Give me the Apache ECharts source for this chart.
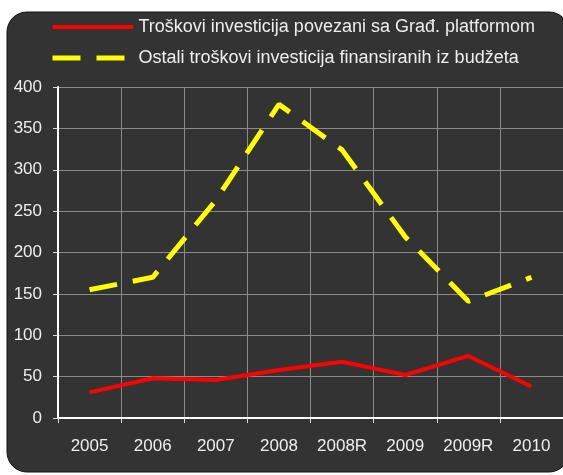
<!DOCTYPE html>
<html lang="bs">
<head>
    <meta charset="UTF-8">
    <title>Troškovi investicija</title>
    <script src="https://cdn.jsdelivr.net/npm/echarts@6/dist/echarts.min.js"></script>
    <style>
      html, body { margin: 0; padding: 0; background: #fff; }
    </style>
</head>
<body>
    <div id="main" style="width: 563px; height: 475px"></div>
    <script type="text/javascript">
      // years on the x axis
      const years = ["2005", "2006", "2007", "2008", "2008R", "2009", "2009R", "2010"];
      // series values
      const gradPlatforma = [31, 48, 46, 58, 68, 52, 75, 38];
      const ostaliTroskovi = [155, 170, 263, 379, 324, 219, 141, 170];
      const yTicks = [0, 50, 100, 150, 200, 250, 300, 350, 400];

      const nameRed = "Troškovi investicija povezani sa Građ. platformom";
      const nameYellow = "Ostali troškovi investicija finansiranih iz budžeta";

      let myChart = echarts.init(document.getElementById("main"));

      let options = {
        backgroundColor: "#ffffff",
        textStyle: { fontFamily: "Liberation Sans, Arial, sans-serif" },
        graphic: [
          {
            type: "rect",
            z: -10,
            shape: { x: 7, y: 12, width: 562, height: 460, r: 20 },
            style: { fill: "#333333", stroke: "#111111", lineWidth: 1 }
          }
        ],
        legend: {
          orient: "vertical",
          left: 45,
          top: 13,
          itemWidth: 81,
          itemHeight: 18,
          itemGap: 13,
          itemStyle: { opacity: 0 },
          data: [
            { name: nameRed, lineStyle: { width: 4 } },
            { name: nameYellow, lineStyle: { width: 5 } }
          ],
          textStyle: { color: "#eeeeee", fontSize: 18 }
        },
        grid: { left: 58, top: 87, right: 0, bottom: 57 },
        xAxis: {
          type: "category",
          data: years,
          boundaryGap: true,
          axisLine: { lineStyle: { color: "#ffffff", width: 2 } },
          axisTick: { show: true, interval: 0, length: 5, lineStyle: { color: "#dddddd" } },
          splitLine: { show: true, interval: 0, lineStyle: { color: "#8a8a8a", width: 1 } },
          axisLabel: { color: "#eeeeee", fontSize: 17, margin: 20, interval: 0 }
        },
        yAxis: {
          type: "value",
          min: yTicks[0],
          max: yTicks[yTicks.length - 1],
          interval: 50,
          axisLine: { show: true, lineStyle: { color: "#ffffff", width: 2 } },
          axisTick: { show: true, length: 5, lineStyle: { color: "#dddddd" } },
          splitLine: { show: true, lineStyle: { color: "#8a8a8a", width: 1 } },
          axisLabel: { color: "#eeeeee", fontSize: 17, margin: 16 }
        },
        series: [
          {
            name: nameRed,
            type: "line",
            data: gradPlatforma,
            symbol: "none",
            lineStyle: { color: "#ff0000", width: 4 },
            itemStyle: { color: "#ff0000" }
          },
          {
            name: nameYellow,
            type: "line",
            data: ostaliTroskovi,
            symbol: "none",
            lineStyle: { color: "#ffff00", width: 5, type: [28, 16] },
            itemStyle: { color: "#ffff00" }
          }
        ]
      };

      myChart.setOption(options);
    </script>
</body>
</html>
